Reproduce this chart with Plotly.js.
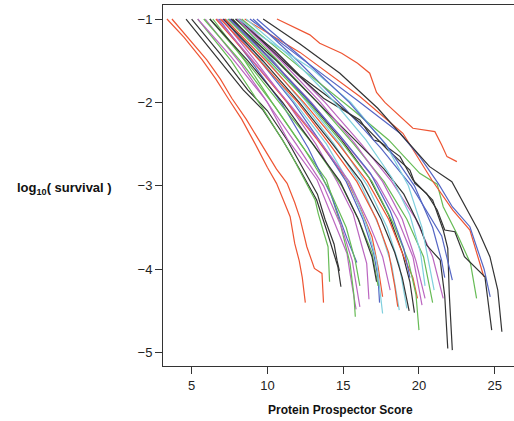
<!DOCTYPE html>
<html>
<head>
<meta charset="utf-8">
<script src="https://cdn.plot.ly/plotly-3.0.1.min.js"></script>
<style>html,body{margin:0;padding:0;background:#fff;}#chart{width:514px;height:421px;}</style>
</head>
<body>
<div id="chart"></div>
<script>
const RED = "#EE5533", BLACK = "#333333", GREEN = "#66BB55", BLUE = "#5566C4", CYAN = "#7FCFDD", PURPLE = "#BB66C0";

const xTickVals = [5, 10, 15, 20, 25];
const yTickVals = [-1, -2, -3, -4, -5];

const c01x = [3.37,4.5,5.7,6.6,7.4,8.3,9.2,10.0,10.6,11.1,11.5,11.8,12.1,12.3,12.5];
const c01y = [-1,-1.22,-1.49,-1.72,-1.95,-2.2,-2.5,-2.78,-2.97,-3.2,-3.37,-3.69,-3.9,-4.1,-4.4];
const c02x = [3.7,4.9,6.0,6.9,7.65,8.6,9.85,10.6,11.3,11.8,12.15,12.6,13.1,13.6,13.7];
const c02y = [-1,-1.25,-1.49,-1.72,-1.95,-2.2,-2.57,-2.8,-2.97,-3.2,-3.39,-3.73,-3.99,-4.05,-4.4];
const c03x = [4.63,6.5,8.4,9.7,11.0,12.15,13.25,13.9,14.3,14.65,14.85];
const c03y = [-1,-1.42,-1.85,-2.09,-2.45,-2.81,-3.17,-3.53,-3.75,-3.97,-4.21];
const c04x = [5.0,6.9,8.7,10.0,11.3,12.4,13.3,13.8,14.4,14.6,14.75];
const c04y = [-1,-1.42,-1.85,-2.1,-2.45,-2.8,-3.1,-3.4,-3.7,-3.9,-4.02];
const c05x = [5.4,7.6,9.65,11.5,13.15,13.35,13.7,14.0,14.1];
const c05y = [-1,-1.5,-2.06,-2.6,-3.17,-3.33,-3.55,-3.73,-4.15];
const c06x = [5.9,8.3,10.0,11.35,13.28,14.45,15.25,15.45,15.85];
const c06y = [-1,-1.55,-2.0,-2.45,-2.93,-3.45,-3.81,-4.05,-4.48];
const c07x = [6.4,8.5,10.3,12.2,13.9,14.8,15.45,15.7,15.8];
const c07y = [-1,-1.5,-2.0,-2.5,-2.93,-3.45,-3.93,-4.3,-4.57];
const c08x = [6.8,8.9,10.9,12.7,14.25,15.25,15.9];
const c08y = [-1,-1.5,-2.0,-2.55,-3.13,-3.63,-3.92];
const c09x = [7.0,9.2,11.3,13.2,14.6,15.65,16.2,16.55,16.7];
const c09y = [-1,-1.5,-2.0,-2.5,-2.95,-3.33,-3.7,-3.93,-4.36];
const c10x = [6.6,9.0,11.3,13.3,15.25,16.2,16.9,17.3,17.6];
const c10y = [-1,-1.5,-2.0,-2.45,-2.93,-3.3,-3.61,-3.97,-4.33];
const c11x = [7.1,9.5,11.7,13.6,15.2,16.3,17.0,17.3,17.4];
const c11y = [-1,-1.5,-2.0,-2.5,-2.95,-3.4,-3.8,-4.1,-4.4];
const c12x = [7.3,9.6,11.8,13.9,15.5,16.6,17.2,17.6];
const c12y = [-1,-1.5,-2.0,-2.5,-3.0,-3.5,-3.9,-4.53];
const c13x = [6.7,9.3,11.6,13.6,15.4,16.7,17.6,18.1];
const c13y = [-1,-1.55,-2.05,-2.5,-2.95,-3.45,-3.85,-4.25];
const c14x = [7.6,10.0,12.3,14.4,16.2,17.4,18.2,18.7];
const c14y = [-1,-1.5,-2.0,-2.5,-3.0,-3.5,-3.95,-4.49];
const c15x = [8.0,10.4,12.6,14.8,16.6,17.9,18.7,19.2];
const c15y = [-1,-1.5,-2.0,-2.5,-3.0,-3.5,-3.95,-4.47];
const c16x = [7.1,9.7,12.1,14.3,16.2,17.5,18.4,18.9,19.35];
const c16y = [-1,-1.5,-2.0,-2.5,-2.95,-3.4,-3.8,-4.1,-4.5];
const c17x = [7.7,10.3,12.8,14.9,16.7,18.0,18.9,19.4,19.7];
const c17y = [-1,-1.5,-2.0,-2.45,-2.9,-3.35,-3.8,-4.15,-4.52];
const c18x = [7.2,9.9,12.4,14.7,16.6,18.0,19.0,19.6,19.9];
const c18y = [-1,-1.5,-2.0,-2.5,-2.95,-3.4,-3.85,-4.1,-4.35];
const c19x = [7.4,10.1,12.7,15.0,16.9,18.3,19.3,19.8,20.0];
const c19y = [-1,-1.5,-2.0,-2.5,-2.95,-3.45,-3.9,-4.3,-4.73];
const c20x = [7.5,10.3,12.9,15.2,17.2,18.6,19.6,20.2];
const c20y = [-1,-1.5,-2.0,-2.5,-2.95,-3.4,-3.85,-4.43];
const c21x = [7.9,10.7,13.3,15.7,17.7,19.2,20.3,20.9];
const c21y = [-1,-1.5,-2.0,-2.5,-2.95,-3.4,-3.85,-4.4];
const c22x = [8.2,11.1,13.8,16.2,18.2,19.8,20.9,21.6];
const c22y = [-1,-1.5,-2.0,-2.5,-2.95,-3.4,-3.85,-4.35];
const c23x = [7.6,10.6,13.3,15.8,17.7,19.0,20.06,20.5,21.4,21.7,21.9];
const c23y = [-1,-1.5,-2.0,-2.45,-2.8,-3.1,-3.49,-3.71,-3.89,-4.32,-4.95];
const c24x = [8.1,11.0,13.7,16.1,17.0,17.4,18.75,19.6,20.9,21.6,21.9,22.0,22.2];
const c24y = [-1,-1.5,-1.95,-2.21,-2.45,-2.47,-2.65,-2.93,-3.17,-3.53,-3.75,-4.3,-4.97];
const c25x = [9.05,12.0,15.0,17.5,19.5,20.8,21.5,21.7,22.2];
const c25y = [-1,-1.5,-2.05,-2.55,-3.0,-3.4,-3.6,-3.75,-4.13];
const c26x = [8.3,12.15,15.65,18.0,20.05,21.2,21.6,22.6,23.4,23.8];
const c26y = [-1,-1.58,-2.09,-2.45,-2.85,-2.98,-3.25,-3.61,-3.93,-4.35];
const c27x = [8.5,12.15,16.1,18.94,20.85,22.23,23.36,24.0,24.28];
const c27y = [-1,-1.4,-1.93,-2.37,-2.93,-3.29,-3.53,-3.93,-4.09];
const c28x = [8.85,12.15,15.9,18.75,20.05,21.3,22.2,23.36,23.8,24.3,24.7];
const c28y = [-1,-1.46,-1.97,-2.37,-2.65,-2.98,-3.25,-3.49,-3.73,-4.0,-4.33];
const c29x = [7.9,10.5,12.15,14.3,16.5,17.95,19.4,19.73,20.5,21.2,21.7,22.37,23.0,23.55,24.35,24.8];
const c29y = [-1,-1.38,-1.68,-1.97,-2.3,-2.57,-2.81,-2.97,-3.09,-3.29,-3.53,-3.55,-3.85,-3.95,-4.09,-4.73];
const c30x = [9.72,12.15,14.78,17.28,20.7,22.17,23.9,24.68,25.2,25.47];
const c30y = [-1,-1.3,-1.65,-2.07,-2.77,-2.95,-3.53,-3.85,-4.25,-4.75];
const c31x = [10.63,12.15,12.8,13.45,14.9,15.95,16.75,17.2,17.75,19.6,21.05,21.5,21.85,22.5];
const c31y = [-1,-1.14,-1.19,-1.29,-1.41,-1.53,-1.65,-1.88,-2.0,-2.31,-2.35,-2.51,-2.65,-2.71];
const c32x = [6.2,8.8,11.0,13.0,14.9,16.0,16.9,17.3];
const c32y = [-1,-1.55,-2.05,-2.5,-3.0,-3.4,-3.8,-4.2];
const c33x = [7.5,10.0,12.6,14.8,16.8,18.1,19.0,19.4];
const c33y = [-1,-1.45,-1.95,-2.4,-2.85,-3.3,-3.75,-4.1];
const c34x = [8.6,11.5,14.2,16.5,18.2,19.4,20.1,20.4];
const c34y = [-1,-1.45,-1.95,-2.45,-2.9,-3.35,-3.8,-4.2];
const c35x = [8.0,10.9,13.5,15.8,17.6,18.9,19.8,20.4];
const c35y = [-1,-1.5,-2.0,-2.5,-2.95,-3.4,-3.9,-4.35];
const c36x = [8.1,9.7,12.8,15.5,17.8,19.3,20.2,20.7,21.0];
const c36y = [-1,-1.22,-1.58,-2.0,-2.5,-3.0,-3.5,-3.95,-4.25];
const c37x = [6.9,9.5,12.0,14.1,15.9,17.2,18.0,18.4,18.6];
const c37y = [-1,-1.5,-2.0,-2.5,-2.95,-3.4,-3.8,-4.2,-4.45];
const c38x = [5.8,8.2,10.5,12.4,14.1,15.2,15.8,16.1];
const c38y = [-1,-1.5,-2.05,-2.55,-3.05,-3.5,-3.9,-4.2];
const c39x = [6.2,8.7,11.0,13.0,14.8,16.0,16.9,17.2];
const c39y = [-1,-1.5,-2.0,-2.5,-2.95,-3.4,-3.85,-4.15];
const c40x = [5.4,7.6,9.8,11.9,13.7,14.9,15.6,16.0,16.1];
const c40y = [-1,-1.45,-1.95,-2.5,-3.0,-3.5,-3.9,-4.3,-4.45];
const c41x = [9.3,12.5,15.4,17.8,19.7,20.9,21.5,21.7];
const c41y = [-1,-1.5,-2.0,-2.5,-3.0,-3.5,-3.9,-4.1];

const curves = [
  [c01x,c01y,RED],[c02x,c02y,RED],[c03x,c03y,BLACK],[c04x,c04y,BLACK],[c05x,c05y,GREEN],
  [c06x,c06y,PURPLE],[c07x,c07y,GREEN],[c08x,c08y,BLUE],[c09x,c09y,PURPLE],[c10x,c10y,RED],
  [c11x,c11y,BLUE],[c12x,c12y,CYAN],[c13x,c13y,PURPLE],[c14x,c14y,CYAN],[c15x,c15y,CYAN],
  [c16x,c16y,BLACK],[c17x,c17y,BLACK],[c18x,c18y,RED],[c19x,c19y,GREEN],[c20x,c20y,PURPLE],
  [c21x,c21y,GREEN],[c22x,c22y,PURPLE],[c23x,c23y,BLACK],[c24x,c24y,BLACK],[c25x,c25y,BLUE],
  [c26x,c26y,GREEN],[c27x,c27y,RED],[c28x,c28y,BLUE],[c29x,c29y,BLACK],[c30x,c30y,BLACK],
  [c31x,c31y,RED],[c32x,c32y,GREEN],[c33x,c33y,BLUE],[c34x,c34y,CYAN],[c35x,c35y,PURPLE],
  [c36x,c36y,CYAN],[c37x,c37y,RED],[c38x,c38y,GREEN],[c39x,c39y,BLACK],[c40x,c40y,PURPLE],
  [c41x,c41y,BLUE]
];

const traces = curves.map(c => ({
  x: c[0], y: c[1], type: 'scatter', mode: 'lines',
  line: {color: c[2], width: 1.2}, hoverinfo: 'skip', showlegend: false
}));

const FONT = "Liberation Sans, Arial, sans-serif";
const layout = {
  width: 514, height: 421,
  margin: {l: 163, r: 0, t: 5, b: 55, pad: 0},
  paper_bgcolor: '#ffffff', plot_bgcolor: '#ffffff',
  showlegend: false,
  font: {family: FONT, size: 13, color: '#222'},
  xaxis: {
    range: [3.11, 26.27], tickvals: xTickVals, ticks: 'outside', ticklen: 7, tickwidth: 1,
    tickcolor: '#333', showline: true, linecolor: '#333', linewidth: 1, mirror: true,
    showgrid: false, zeroline: false, tickfont: {family: FONT, size: 13, color: '#222'}
  },
  yaxis: {
    range: [-5.16, -0.832], tickvals: yTickVals, ticks: 'outside', ticklen: 7, tickwidth: 1,
    tickcolor: '#333', showline: true, linecolor: '#333', linewidth: 1,
    showgrid: false, zeroline: false, tickfont: {family: FONT, size: 13, color: '#222'}
  },
  annotations: [
    {text: '<b>Protein Prospector Score</b>', xref: 'paper', yref: 'paper', x: 0.507, y: -0.122,
     xanchor: 'center', yanchor: 'middle', showarrow: false, font: {family: FONT, size: 12, color: '#111'}},
    {text: '<b>log<sub>10</sub>( survival )</b>', xref: 'paper', yref: 'paper', x: -0.282, y: 0.493,
     xanchor: 'center', yanchor: 'middle', showarrow: false, font: {family: FONT, size: 13, color: '#111'}}
  ]
};

Plotly.newPlot('chart', traces, layout, {staticPlot: true, displayModeBar: false});
</script>
</body>
</html>
